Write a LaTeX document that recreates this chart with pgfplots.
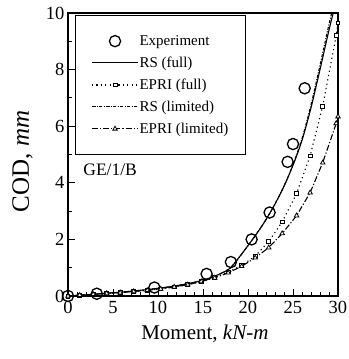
\documentclass[border=0pt]{standalone}
\usepackage{pgfplots}
\pgfplotsset{compat=1.18}
\usepackage{fontspec}
\setmainfont{Liberation Serif}

\begin{document}
\begin{tikzpicture}
\begin{axis}[
  name=ax,
  scale only axis, width=270pt, height=283pt,
  xmin=0, xmax=30, ymin=0, ymax=10,
  xtick={0,5,...,30}, ytick={0,2,...,10},
  minor x tick num=4, minor y tick num=1,
  tick align=inside, xtick pos=bottom, ytick pos=left,
  major tick length=7pt, minor tick length=4pt,
  axis line style={line width=1.4pt},
  every tick/.style={line width=0.9pt, black},
  clip=false,
  /pgf/number format/assume math mode=true,
  tick label style={font=\fontsize{18.5}{18.5}\selectfont},
  xticklabel style={yshift=-2pt},
  xlabel={Moment, \textit{kN-m}},
  ylabel={COD, \textit{mm}},
  xlabel style={font=\fontsize{21}{21}\selectfont, at={(axis description cs:0.507,-0.155)}, anchor=base},
  ylabel style={font=\fontsize{25}{25}\selectfont, at={(axis description cs:-0.1685,0.475)}, anchor=center},
  legend cell align=left,
  legend image code/.code={\draw[mark repeat=2,mark phase=2] plot coordinates {(0pt,0pt) (23pt,0pt) (46pt,0pt)};},
  legend style={at={(rel axis cs:0.026,0.993)}, anchor=north west, draw=black, line width=0.9pt,
    font=\fontsize{15}{15}\selectfont, inner xsep=16pt, inner ysep=19pt, row sep=8pt,
    nodes={inner sep=1pt, anchor=west}},
]
% measured crack opening
\addplot[only marks, mark=o, mark size=5.6pt, line width=1.3pt, fill=white] coordinates {
 (0,0) (3.2,0.08) (9.6,0.3) (15.4,0.78) (18.1,1.2) (20.4,2.0) (22.4,2.95)
 (24.4,4.74) (25.0,5.37) (26.3,7.34)};
\addlegendentry{Experiment}
% reference stress, full
\addplot[black, line width=1.1pt, smooth, no marks] coordinates {
 (0,0) (2,0.04) (4,0.09) (6,0.14) (8,0.2) (10,0.27) (12,0.36) (14,0.48) (15,0.56)
 (16,0.66) (17,0.8) (18,0.98) (19,1.36) (20,1.78) (21,2.22) (22,2.7) (23,3.25)
 (24,3.88) (25,4.62) (26,5.5) (27,6.65) (28,8.0) (29,9.4) (29.47,10)};
\addlegendentry{RS (full)}
% EPRI, full
\addplot[black, line width=1.1pt, dash pattern=on 1.2pt off 3.2pt, mark=square*,
  mark size=1.9pt, mark options={solid, fill=white, line width=0.8pt}] coordinates {
 (0,0) (1.3,0.03) (2.8,0.06) (4.3,0.09) (5.8,0.12) (7.3,0.16) (8.8,0.2) (10.3,0.25)
 (11.8,0.32) (13.3,0.4) (14.8,0.52) (16.3,0.66) (17.8,0.85) (19.3,1.08) (20.8,1.41)
 (22.3,1.92) (23.8,2.62) (25.4,3.62) (26.9,4.95) (28.3,6.71) (29.8,9.2) (30,9.65)};
\addlegendentry{EPRI (full)}
% reference stress, limited
\addplot[black, line width=1.1pt, smooth, no marks, dash pattern=on 3pt off 1.5pt on 1pt off 1.5pt] coordinates {
 (0,0) (2,0.04) (4,0.09) (6,0.14) (8,0.2) (10,0.27) (12,0.36) (14,0.48) (15,0.56)
 (16,0.66) (17,0.8) (18,0.98) (19,1.36) (20,1.78) (21,2.22) (22,2.7) (23,3.25)
 (24,3.88) (25,4.64) (26,5.56) (27,6.75) (28,8.15) (29,9.6) (29.3,10)};
\addlegendentry{RS (limited)}
% EPRI, limited
\addplot[black, line width=1.1pt, dash pattern=on 6pt off 2pt on 1.2pt off 2pt, mark=triangle*,
  mark size=2.6pt, mark options={solid, fill=white, line width=0.8pt}] coordinates {
 (0,0) (1.3,0.03) (2.8,0.06) (4.3,0.09) (5.8,0.12) (7.3,0.16) (8.8,0.2) (10.3,0.25)
 (11.8,0.32) (13.3,0.4) (14.8,0.51) (16.3,0.64) (17.8,0.82) (19.3,1.05) (20.8,1.35)
 (22.3,1.71) (23.8,2.21) (25.4,2.84) (26.9,3.65) (28.3,4.71) (29.8,6.1) (30,6.34)};
\addlegendentry{EPRI (limited)}
\node[anchor=west, font=\fontsize{17.5}{17.5}\selectfont] at (rel axis cs:0.044,0.445) {GE/1/B};
\end{axis}
\pgfresetboundingbox
\path[use as bounding box] ([shift={(-68pt,-63pt)}]ax.south west) rectangle ([shift={(11pt,13pt)}]ax.north east);
\end{tikzpicture}
\end{document}
